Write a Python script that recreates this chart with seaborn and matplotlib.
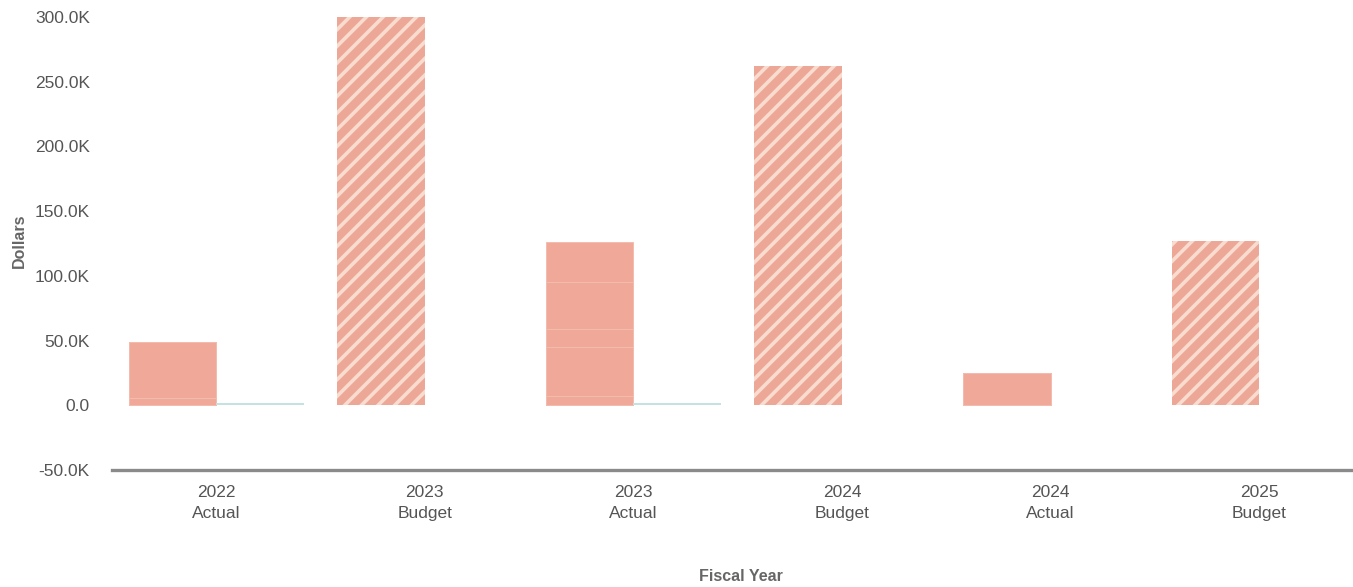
import matplotlib
matplotlib.use("Agg")
import matplotlib.pyplot as plt
import seaborn as sns
import pandas as pd
import numpy as np
from matplotlib.ticker import FuncFormatter

# Fiscal-year columns
categories = ["2022\nActual", "2023\nBudget", "2023\nActual", "2024\nBudget", "2024\nActual", "2025\nBudget"]
is_budget = [False, True, False, True, False, True]

# Expenditure components stacked in each column (dollars)
component_1 = [6000, 300000, 7000, 262000, 25000, 127000]
component_2 = [43000, 0, 38000, 0, 0, 0]
component_3 = [0, 0, 14000, 0, 0, 0]
component_4 = [0, 0, 36000, 0, 0, 0]
component_5 = [0, 0, 31000, 0, 0, 0]

# Secondary series (small revenue offsets)
secondary = [1500, 0, 1500, 0, 0, 0]

y_ticks = [-50000, 0, 50000, 100000, 150000, 200000, 250000, 300000]

MAIN = "#f0a898"
HATCH_BG = "#eda796"
STRIPE = "#f8dccf"
TEAL = "#c4e2de"
GREY_TXT = "#555555"

sns.set_theme(style="white")
plt.rcParams["font.family"] = ["Liberation Sans", "DejaVu Sans"]
plt.rcParams["hatch.linewidth"] = 2.6

fig = plt.figure(figsize=(13.53, 5.87), dpi=100)
ax = fig.add_axes([112 / 1353, 1 - 470 / 587, 1 - 112 / 1353, (470 - 10.5) / 587])

components = [component_1, component_2, component_3, component_4, component_5]
cum = np.cumsum(np.array(components), axis=0)

# Draw cumulative layers from tallest to shortest so each segment shows
for layer in range(len(components) - 1, -1, -1):
    df = pd.DataFrame({
        "category": categories * 2,
        "value": list(cum[layer]) + secondary,
        "series": ["Expenses"] * len(categories) + ["Offsets"] * len(categories),
    })
    sns.barplot(data=df, x="category", y="value", hue="series",
                hue_order=["Expenses", "Offsets"], order=categories,
                palette=[MAIN, TEAL], width=0.84, dodge=True,
                saturation=1, legend=False, ax=ax, errorbar=None)

for p in ax.patches:
    cx = p.get_x() + p.get_width() / 2
    cat = int(round(cx))
    if cx < cat:
        if is_budget[cat]:
            p.set_facecolor(HATCH_BG)
            p.set_hatch("//")
            p.set_edgecolor(STRIPE)
            p.set_linewidth(0)
        else:
            p.set_facecolor(MAIN)
            p.set_edgecolor("#f4bcae")
            p.set_linewidth(0.7)
    else:
        p.set_linewidth(0)

ax.set_xlim(-0.5, 5.45)
ax.set_ylim(-50000, 305000)
ax.set_yticks(y_ticks)


def fmt(v, _):
    if v == 0:
        return "0.0"
    return f"{v / 1000:.1f}K"


ax.yaxis.set_major_formatter(FuncFormatter(fmt))
ax.tick_params(axis="y", length=0, pad=16, labelsize=12.5, labelcolor=GREY_TXT)
ax.tick_params(axis="x", length=0, pad=11, labelsize=12.5, labelcolor=GREY_TXT)
for lbl in ax.get_xticklabels():
    lbl.set_linespacing(1.45)

for s in ["top", "right", "left"]:
    ax.spines[s].set_visible(False)
ax.spines["bottom"].set_color("#8a8a8a")
ax.spines["bottom"].set_linewidth(2.4)

ax.set_xlabel("Fiscal Year", fontsize=11.5, fontweight="bold", color="#666666")
ax.set_ylabel("Dollars", fontsize=11.5, fontweight="bold", color="#666666")
ax.xaxis.set_label_coords(0.507, -0.215)
ax.yaxis.set_label_coords(-0.0685, 0.5)
ax.grid(False)

fig.savefig("out.png", dpi=100)
